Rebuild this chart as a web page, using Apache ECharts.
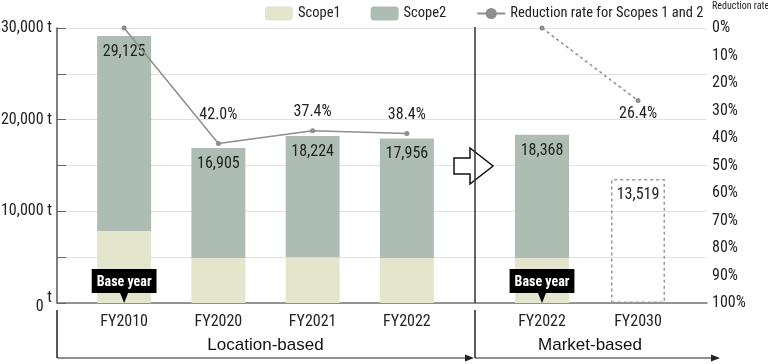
<!DOCTYPE html>
<html><head><meta charset="utf-8">
<script src="https://cdn.jsdelivr.net/npm/echarts@6/dist/echarts.min.js"></script>
<style>html,body{margin:0;padding:0;background:#fff}#c{width:768px;height:364px}</style>
</head><body><div id="c"></div>
<script>
// ---- data ----
const locCategories = ['FY2010', 'FY2020', 'FY2021', 'FY2022'];
const mktCategories = ['FY2022', 'FY2030'];
const locScope1 = [7850, 4900, 5000, 4900];
const locScope2 = [21275, 12005, 13224, 13056];
const locTotal = [29125, 16905, 18224, 17956];
const mktScope1 = [4900, null];
const mktScope2 = [13468, null];
const mktTotal = [18368, 13519];
const mktTarget = [null, 13519];
const locReduction = [0, 42.0, 37.4, 38.4];
const mktReduction = [0, 26.4];
const leftTicks = [0, 10000, 20000, 30000];
const rightTicks = [0, 10, 20, 30, 40, 50, 60, 70, 80, 90, 100];

// pick the narrowest installed condensed family
const candidates = ['Noto Sans ExtraCondensed', 'Roboto Condensed', 'Noto Sans Condensed', 'Open Sans Condensed',
  'Liberation Sans Narrow', 'DejaVu Sans Condensed', 'Arial Narrow'];
const mctx = document.createElement('canvas').getContext('2d');
function has(f) {
  const s = 'FY2010 29,125 abcdefghij';
  mctx.font = '20px monospace'; const a = mctx.measureText(s).width;
  mctx.font = `20px '${f}', monospace`; const b = mctx.measureText(s).width;
  mctx.font = '20px serif'; const c = mctx.measureText(s).width;
  mctx.font = `20px '${f}', serif`; const d = mctx.measureText(s).width;
  return a !== b && c !== d;
}
const condFound = candidates.find(has);
const COND = condFound ? `'${condFound}'` : 'Roboto';
const SANS = "'Liberation Sans',Arial,sans-serif";
const C1 = '#e3e6cc', C2 = '#adbdb4', CL = '#8e8e8e';
const fmt = v => v.toLocaleString('en-US');

const chart = echarts.init(document.getElementById('c'), null, {renderer: 'canvas'});
const hiddenY = (g, inv, max) => ({type: 'value', gridIndex: g, show: false, min: 0, max: max, inverse: inv});
const numLabel = {fontSize: 16, color: '#222', fontFamily: COND};

const option = {
  animation: false,
  textStyle: {fontFamily: COND},
  legend: {
    left: 260, top: 1, itemWidth: 28, itemHeight: 14, itemGap: 30,
    textStyle: {fontFamily: COND, fontSize: 14.5, color: '#222'},
    data: ['Scope1', 'Scope2', 'Reduction rate for Scopes 1 and 2']
  },
  grid: [
    {left: 57, right: 61, top: 28, bottom: 61, outerBoundsMode: 'none'},
    {left: 77, width: 377, top: 28, bottom: 61, outerBoundsMode: 'none'},
    {left: 494, width: 192, top: 28, bottom: 61, outerBoundsMode: 'none'}
  ],
  xAxis: [
    {type: 'category', gridIndex: 0, data: [''], axisLabel: {show: false}, axisTick: {show: false},
     axisLine: {lineStyle: {color: '#777', width: 1.5}}},
    {type: 'category', gridIndex: 1, data: locCategories, axisLine: {show: false}, axisTick: {show: false},
     axisLabel: {margin: 11, fontSize: 16, color: '#222', fontFamily: COND},
     name: 'Location-based', nameLocation: 'middle', nameGap: 34,
     nameTextStyle: {fontFamily: SANS, fontSize: 17, color: '#111', fontWeight: 500}},
    {type: 'category', gridIndex: 2, data: mktCategories, axisLine: {show: false}, axisTick: {show: false},
     axisLabel: {margin: 11, fontSize: 16, color: '#222', fontFamily: COND},
     name: 'Market-based', nameLocation: 'middle', nameGap: 34,
     nameTextStyle: {fontFamily: SANS, fontSize: 17, color: '#111', fontWeight: 500}}
  ],
  yAxis: [
    {type: 'value', gridIndex: 0, min: 0, max: 30000, interval: 5000,
     axisLine: {show: true, lineStyle: {color: '#555', width: 1.5}},
     axisTick: {show: true, inside: true, length: 9, lineStyle: {color: '#666'}},
     splitLine: {lineStyle: {color: '#e2e2e2'}},
     axisLabel: {margin: 5, fontSize: 16, color: '#222', fontFamily: COND,
       formatter: v => v === 0 ? '{z|0}{t| t}' : (leftTicks.includes(v) ? fmt(v) + ' t' : ''),
       rich: {z: {fontSize: 16, fontFamily: COND, color: '#222', padding: [8, 0, 0, 0]},
              t: {fontSize: 16, fontFamily: COND, color: '#222', padding: [0, 0, 10, 0]}}}},
    {type: 'value', gridIndex: 0, position: 'right', inverse: true, min: 0, max: 100, interval: 10,
     axisLine: {show: false}, axisTick: {show: false}, splitLine: {show: false},
     axisLabel: {margin: 5, fontSize: 16, color: '#222', fontFamily: COND,
       formatter: v => rightTicks.includes(v) ? v + '%' : ''},
     name: 'Reduction rate', nameLocation: 'start', nameGap: 17,
     nameTextStyle: {fontFamily: COND, fontSize: 10, color: '#222', align: 'left', padding: [0, 0, 0, 5]}},
    hiddenY(1, false, 30000), hiddenY(1, true, 100),
    hiddenY(2, false, 30000), hiddenY(2, true, 100)
  ],
  series: [
    {name: 'Scope1', type: 'bar', xAxisIndex: 1, yAxisIndex: 2, stack: 'l', barWidth: 54,
     itemStyle: {color: C1},
     data: locScope1.map((v, i) => i === 0 ? {value: v, label: {show: true}} : v),
     label: {show: false, position: 'insideBottom', distance: 10, formatter: 'Base year',
       backgroundColor: '#000', color: '#fff', fontWeight: 'bold', fontSize: 14, fontFamily: COND, padding: [6, 5, 4, 5]},
     markPoint: {symbol: 'triangle', symbolRotate: 180, symbolSize: [8, 10], symbolOffset: [0, -5],
       itemStyle: {color: '#000'}, label: {show: false}, silent: true,
       data: [{coord: [0, 0]}]}},
    {name: 'Scope2', type: 'bar', xAxisIndex: 1, yAxisIndex: 2, stack: 'l', barWidth: 54,
     itemStyle: {color: C2}, data: locScope2,
     label: Object.assign({show: true, position: 'insideTop', distance: 8,
       formatter: p => fmt(locTotal[p.dataIndex])}, numLabel)},
    {name: 'Reduction rate for Scopes 1 and 2', type: 'line', xAxisIndex: 1, yAxisIndex: 3,
     data: locReduction.map((v, i) => i === 1 ? {value: v, label: {distance: 18}} : v),
     symbol: 'circle', symbolSize: 5, itemStyle: {color: CL}, lineStyle: {color: CL, width: 1.5},
     label: Object.assign({show: true, position: 'top', distance: 8,
       formatter: p => p.dataIndex === 0 ? '' : p.value.toFixed(1) + '%'}, numLabel), z: 5},

    {name: 'Scope1', type: 'bar', xAxisIndex: 2, yAxisIndex: 4, stack: 'm', barWidth: 54,
     itemStyle: {color: C1},
     data: mktScope1.map((v, i) => i === 0 ? {value: v, label: {show: true}} : v),
     label: {show: false, position: 'insideBottom', distance: 10, formatter: 'Base year',
       backgroundColor: '#000', color: '#fff', fontWeight: 'bold', fontSize: 14, fontFamily: COND, padding: [6, 5, 4, 5]},
     markPoint: {symbol: 'triangle', symbolRotate: 180, symbolSize: [8, 10], symbolOffset: [0, -5],
       itemStyle: {color: '#000'}, label: {show: false}, silent: true,
       data: [{coord: [0, 0]}]}},
    {name: 'Scope2', type: 'bar', xAxisIndex: 2, yAxisIndex: 4, stack: 'm', barWidth: 54,
     itemStyle: {color: C2}, data: mktScope2,
     label: Object.assign({show: true, position: 'insideTop', distance: 8,
       formatter: p => fmt(mktTotal[p.dataIndex])}, numLabel)},
    {name: 'Target', type: 'bar', xAxisIndex: 2, yAxisIndex: 4, stack: 'm', barWidth: 54,
     itemStyle: {color: 'rgba(255,255,255,0)', borderColor: '#999', borderWidth: 1.5, borderType: [3, 3]},
     data: mktTarget,
     label: Object.assign({show: true, position: 'insideTop', distance: 8,
       formatter: p => fmt(mktTotal[p.dataIndex])}, numLabel)},
    {name: 'Reduction rate for Scopes 1 and 2', type: 'line', xAxisIndex: 2, yAxisIndex: 5,
     data: mktReduction,
     symbol: 'circle', symbolSize: 5, itemStyle: {color: CL}, lineStyle: {color: CL, width: 1.5, type: [3, 3]},
     label: Object.assign({show: true, position: 'bottom', distance: 3,
       formatter: p => p.dataIndex === 0 ? '' : p.value.toFixed(1) + '%'}, numLabel), z: 5}
  ],
  graphic: [
    {type: 'polygon', z: 100,
     shape: {points: [[454, 158], [470, 158], [470, 148], [493, 166], [470, 184], [470, 174], [454, 174]]},
     style: {fill: '#fff', stroke: '#111', lineWidth: 1.5}},
    {type: 'line', z: 101, shape: {x1: 475, y1: 27, x2: 475, y2: 303}, style: {stroke: '#333', lineWidth: 1.5}},
    {type: 'line', z: 101, shape: {x1: 57, y1: 310, x2: 57, y2: 358}, style: {stroke: '#222', lineWidth: 1.5}},
    {type: 'line', z: 101, shape: {x1: 57, y1: 358, x2: 468, y2: 358}, style: {stroke: '#222', lineWidth: 1.2}},
    {type: 'polygon', z: 101, shape: {points: [[465, 354.5], [474, 358], [465, 361.5]]}, style: {fill: '#222'}},
    {type: 'line', z: 101, shape: {x1: 475, y1: 310, x2: 475, y2: 358}, style: {stroke: '#222', lineWidth: 1.5}},
    {type: 'line', z: 101, shape: {x1: 475, y1: 358, x2: 714, y2: 358}, style: {stroke: '#222', lineWidth: 1.2}},
    {type: 'polygon', z: 101, shape: {points: [[711, 354.5], [720, 358], [711, 361.5]]}, style: {fill: '#222'}}
  ]
};
chart.setOption(option);
</script></body></html>
